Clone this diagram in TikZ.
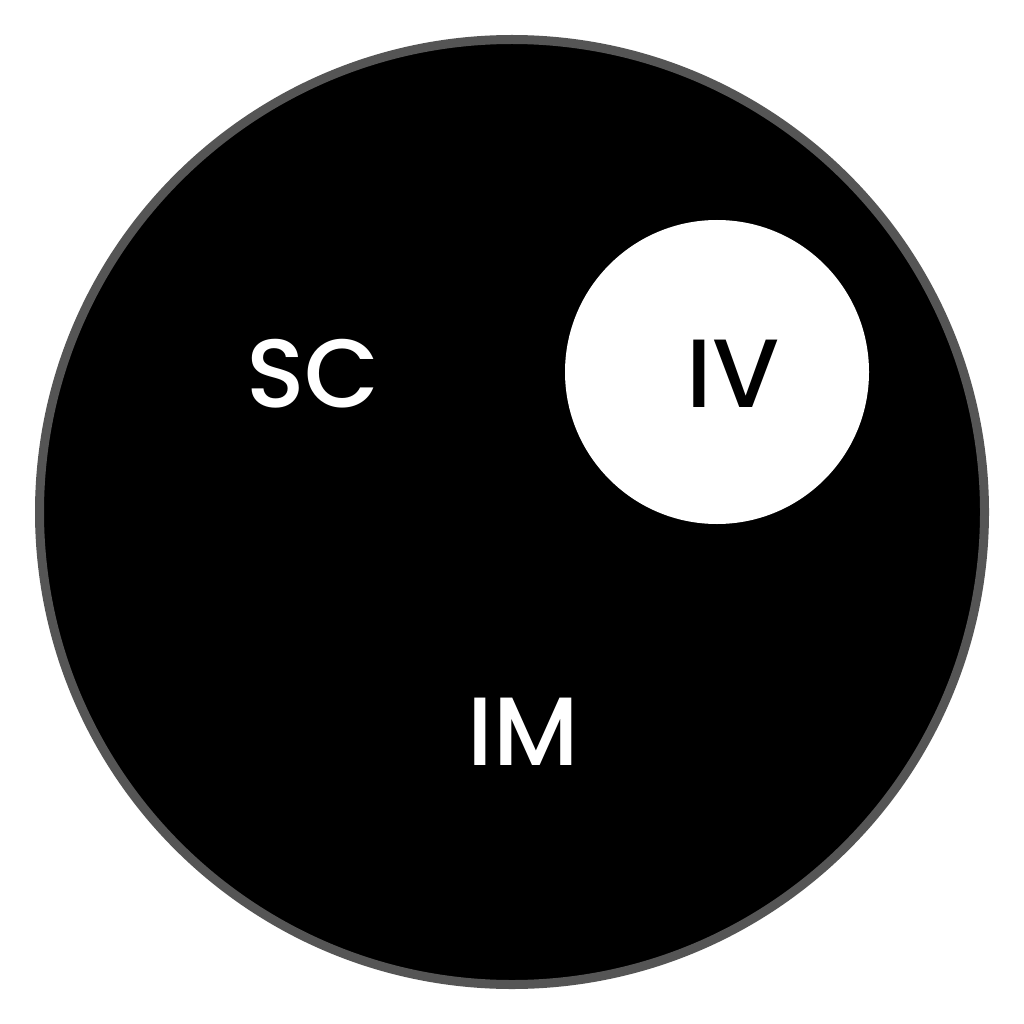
\documentclass[tikz,border=0pt]{standalone}
\usepackage{fontspec}
\newfontfamily\lblfont{Poppins Medium}
\begin{document}
\begin{tikzpicture}[x=1pt,y=-1pt,
  lbl/.style={font=\lblfont\fontsize{97}{97}\selectfont, inner sep=0pt}]
\useasboundingbox[fill=white] (0,0) rectangle (1024,1024);
\node[circle, fill=black, draw={rgb,255:red,85;green,85;blue,85}, line width=9pt, minimum size=945pt, inner sep=0pt] (outer) at (512,512) {};
\node[circle, fill=white, minimum size=304pt, inner sep=0pt] (iv) at (717,372) {};
\node[lbl, text=white] (sc) at (313,374) {SC};
\node[lbl, text=black] (ivl) at (733,374) {IV};
\node[lbl, text=white] (im) at (523,732) {IM};
\end{tikzpicture}
\end{document}
